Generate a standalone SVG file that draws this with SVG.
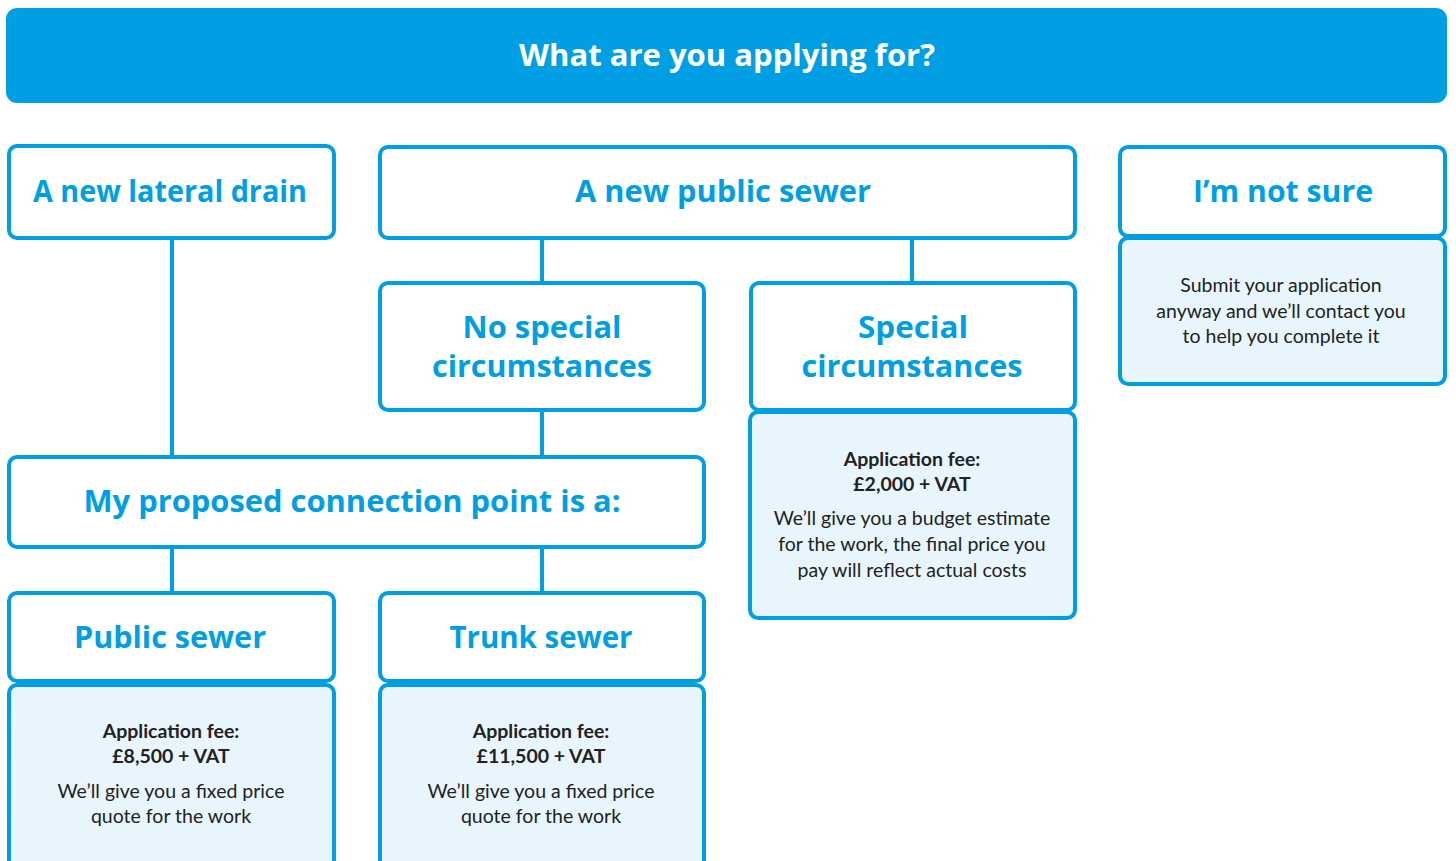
<svg xmlns="http://www.w3.org/2000/svg" width="1456" height="861" viewBox="0 0 1456 861">
<style>
.box{fill:#ffffff;stroke:#009FE3;stroke-width:4}
.det{fill:#E9F5FD;stroke:#009FE3;stroke-width:4}
.con{stroke:#009FE3;stroke-width:4;fill:none}
.t{font-family:"Open Sans",Lato,sans-serif;font-weight:700;font-size:30px;fill:#009FE3;text-anchor:middle}
.h{font-family:"Open Sans",Lato,sans-serif;font-weight:700;font-size:30px;fill:#ffffff;text-anchor:middle}
.b{font-family:Lato,"Noto Sans",sans-serif;font-size:19.5px;fill:#222222;text-anchor:middle}
.bb{font-family:Lato,"Noto Sans",sans-serif;font-size:19.5px;font-weight:700;fill:#222222;text-anchor:middle}
</style>
<rect width="1456" height="861" fill="#ffffff"/>
<g id="connectors">
<line class="con" x1="172" y1="238" x2="172" y2="457"/>
<line class="con" x1="542" y1="238" x2="542" y2="283"/>
<line class="con" x1="912" y1="238" x2="912" y2="283"/>
<line class="con" x1="542" y1="410" x2="542" y2="457"/>
<line class="con" x1="172" y1="547" x2="172" y2="593"/>
<line class="con" x1="542" y1="547" x2="542" y2="593"/>
</g>
<g id="header">
<rect x="6" y="8" width="1441" height="95" rx="11" fill="#009FE3"/>
<text class="h" x="727" y="66" textLength="416" lengthAdjust="spacingAndGlyphs">What are you applying for?</text>
</g>
<g id="lateral">
<rect class="box" x="9" y="146" width="325" height="92" rx="8"/>
<text class="t" x="170" y="202" textLength="274" lengthAdjust="spacingAndGlyphs">A new lateral drain</text>
</g>
<g id="publicsewer">
<rect class="box" x="380" y="147" width="695" height="91" rx="8"/>
<text class="t" x="723" y="202" textLength="296" lengthAdjust="spacingAndGlyphs">A new public sewer</text>
</g>
<g id="notsure">
<rect class="box" x="1120" y="147" width="325" height="89" rx="8"/>
<text class="t" x="1283" y="202" textLength="180" lengthAdjust="spacingAndGlyphs">I’m not sure</text>
</g>
<g id="notsure-detail">
<rect class="det" x="1120" y="238" width="325" height="146" rx="8"/>
<text class="b" x="1281" y="292">Submit your application</text>
<text class="b" x="1281" y="318">anyway and we’ll contact you</text>
<text class="b" x="1281" y="343">to help you complete it</text>
</g>
<g id="nospecial">
<rect class="box" x="380" y="283" width="324" height="127" rx="8"/>
<text class="t" x="542" y="338" textLength="159" lengthAdjust="spacingAndGlyphs">No special</text>
<text class="t" x="542" y="377" textLength="220" lengthAdjust="spacingAndGlyphs">circumstances</text>
</g>
<g id="special">
<rect class="box" x="751" y="283" width="324" height="127" rx="8"/>
<text class="t" x="913" y="338" textLength="110" lengthAdjust="spacingAndGlyphs">Special</text>
<text class="t" x="912" y="377" textLength="221" lengthAdjust="spacingAndGlyphs">circumstances</text>
</g>
<g id="special-detail">
<rect class="det" x="750" y="412" width="325" height="206" rx="8"/>
<text class="bb" x="912" y="466">Application fee:</text>
<text class="bb" x="912" y="491">£2,000 + VAT</text>
<text class="b" x="912" y="525">We’ll give you a budget estimate</text>
<text class="b" x="912" y="551">for the work, the final price you</text>
<text class="b" x="912" y="577">pay will reflect actual costs</text>
</g>
<g id="connection">
<rect class="box" x="9" y="457" width="695" height="90" rx="8"/>
<text class="t" x="352" y="512" textLength="537" lengthAdjust="spacingAndGlyphs">My proposed connection point is a:</text>
</g>
<g id="public">
<rect class="box" x="9" y="593" width="325" height="88" rx="8"/>
<text class="t" x="170" y="648" textLength="192" lengthAdjust="spacingAndGlyphs">Public sewer</text>
</g>
<g id="public-detail">
<rect class="det" x="9" y="685" width="325" height="200" rx="8"/>
<text class="bb" x="171" y="738">Application fee:</text>
<text class="bb" x="171" y="763">£8,500 + VAT</text>
<text class="b" x="171" y="798">We’ll give you a fixed price</text>
<text class="b" x="171" y="823">quote for the work</text>
</g>
<g id="trunk">
<rect class="box" x="380" y="593" width="324" height="88" rx="8"/>
<text class="t" x="541" y="648" textLength="183" lengthAdjust="spacingAndGlyphs">Trunk sewer</text>
</g>
<g id="trunk-detail">
<rect class="det" x="380" y="685" width="324" height="200" rx="8"/>
<text class="bb" x="541" y="738">Application fee:</text>
<text class="bb" x="541" y="763">£11,500 + VAT</text>
<text class="b" x="541" y="798">We’ll give you a fixed price</text>
<text class="b" x="541" y="823">quote for the work</text>
</g>
</svg>
